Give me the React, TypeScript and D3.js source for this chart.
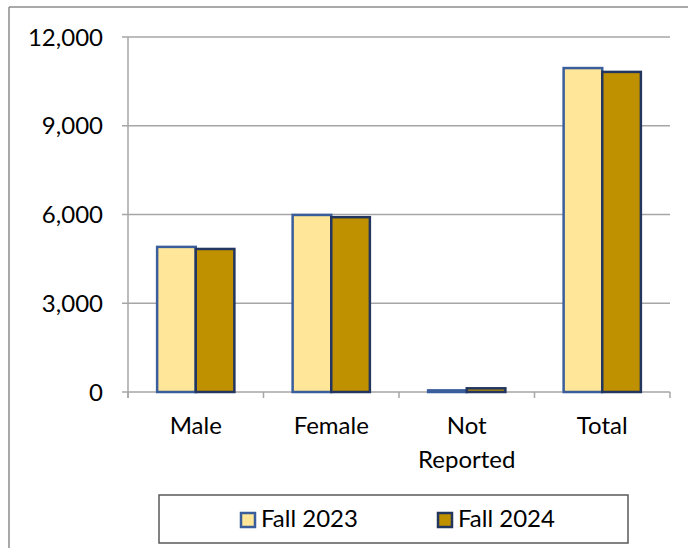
import React from 'react';
import * as d3 from 'd3';

const categories = ['Male', 'Female', 'Not Reported', 'Total'];
const fall2023 = [4905, 5985, 55, 10950];
const fall2024 = [4835, 5910, 125, 10820];
const seriesNames = ['Fall 2023', 'Fall 2024'];
const yTicks = [0, 3000, 6000, 9000, 12000];

const W = 688;
const H = 548;
const FONT = 'Lato, "Open Sans", sans-serif';
const FS = 24;

const colors = {
  fills: ['#FFE699', '#BF9000'],
  strokes: ['#3A5E9C', '#22365F'],
  grid: '#A6A6A6',
  frame: '#8C8C8C',
  text: '#000',
};

const App: React.FC = () => {
  const plot = { left: 128, right: 670, top: 37, bottom: 392 };

  const x = d3.scaleBand<string>()
    .domain(categories)
    .range([plot.left, plot.right])
    .paddingInner(0.43)
    .paddingOuter(0.215);

  const sub = d3.scaleBand<string>()
    .domain(seriesNames)
    .range([0, x.bandwidth()]);

  const y = d3.scaleLinear().domain([0, 12000]).range([plot.bottom, plot.top]);
  const fmt = d3.format(',');
  const series = [fall2023, fall2024];

  const step = (plot.right - plot.left) / categories.length;
  const catTicks = d3.range(categories.length + 1).map(i => plot.left + i * step);

  return (
    <svg width={W} height={H} style={{ position: 'absolute', left: 0, top: 0, display: 'block' }}
      fontFamily={FONT}>
      <rect x={0} y={0} width={W} height={H} fill="#fff" />
      {/* chart frame */}
      <line x1={9} y1={7} x2={W} y2={7} stroke={colors.frame} strokeWidth={1.5} />
      <line x1={9} y1={7} x2={9} y2={H} stroke={colors.frame} strokeWidth={1.5} />

      {/* gridlines + y labels */}
      {yTicks.map(t => (
        <g key={t}>
          <line x1={plot.left - 6} x2={plot.right} y1={y(t)} y2={y(t)}
            stroke={colors.grid} strokeWidth={1.5} />
          <text x={103} y={y(t)} dy="0.36em" textAnchor="end" fontSize={FS} fill={colors.text}>
            {fmt(t)}
          </text>
        </g>
      ))}
      <line x1={plot.left} x2={plot.left} y1={plot.top} y2={plot.bottom + 6}
        stroke={colors.grid} strokeWidth={1.5} />
      {catTicks.map((cx, i) => (
        <line key={i} x1={cx} x2={cx} y1={plot.bottom} y2={plot.bottom + 6}
          stroke={colors.grid} strokeWidth={1.5} />
      ))}

      {/* bars */}
      {categories.map((c, i) => (
        <g key={c}>
          {series.map((vals, s) => {
            const bx = (x(c) ?? 0) + (sub(seriesNames[s]) ?? 0);
            const top = y(vals[i]);
            return (
              <rect key={s} x={bx} y={top} width={sub.bandwidth()}
                height={Math.max(0, plot.bottom - top)}
                fill={colors.fills[s]} stroke={colors.strokes[s]} strokeWidth={2.5} />
            );
          })}
        </g>
      ))}

      {/* category labels */}
      {categories.map(c => {
        const cx = (x(c) ?? 0) + x.bandwidth() / 2;
        const words = c === 'Not Reported' ? ['Not', 'Reported'] : [c];
        return (
          <text key={c} x={cx} y={434} textAnchor="middle" fontSize={FS} fill={colors.text}>
            {words.map((w, k) => (
              <tspan key={k} x={cx} dy={k === 0 ? 0 : 34}>{w}</tspan>
            ))}
          </text>
        );
      })}

      {/* legend */}
      <rect x={159} y={495} width={469} height={48} fill="#fff" stroke="#595959" strokeWidth={1.5} />
      {seriesNames.map((n, s) => {
        const lx = s === 0 ? 241 : 438;
        return (
          <g key={n}>
            <rect x={lx} y={513} width={14} height={14}
              fill={colors.fills[s]} stroke={colors.strokes[s]} strokeWidth={2.5} />
            <text x={lx + 20} y={527} fontSize={FS} fill={colors.text}>{n}</text>
          </g>
        );
      })}
    </svg>
  );
};

export default App;
